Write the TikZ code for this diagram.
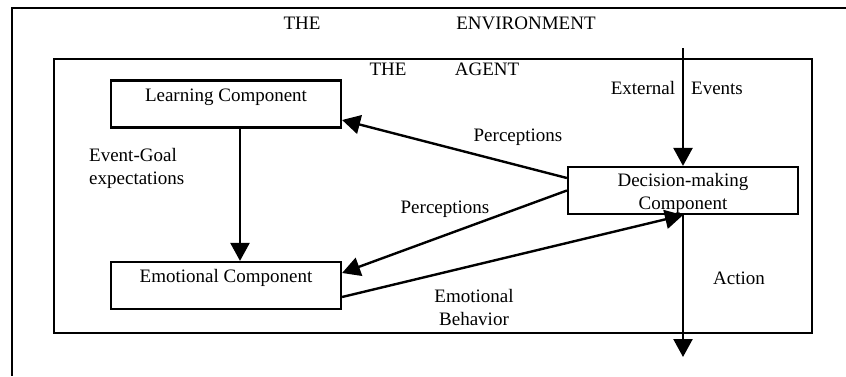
\documentclass[tikz,border=0pt]{standalone}
\usepackage{fontspec}
\setmainfont{Liberation Serif}
\usetikzlibrary{arrows.meta,calc}
\begin{document}
\begin{tikzpicture}[x=1pt,y=-1pt,
  every node/.style={font=\fontsize{19}{23}\selectfont},
  txt/.style={inner sep=0pt, align=center},
  comp/.style={draw, line width=2.2pt, minimum width=230pt, minimum height=47pt, inner sep=0pt},
  arr/.style={line width=2.4pt, -{Triangle[length=18pt,width=19pt]}},
  frame/.style={line width=2.2pt}]
\useasboundingbox (0,0) rectangle (846,376);
% environment frame
\draw[frame] (846,8) -- (12,8) -- (12,376);
\node[txt] (env1) at (302,23) {THE};
\node[txt] (env2) at (526,23) {ENVIRONMENT};
% agent frame
\draw[line width=2.8pt] (54,59) rectangle (812,333);
\node[txt] (ag1) at (388,69) {THE};
\node[txt] (ag2) at (487,69) {AGENT};
% components
\node[comp] (learn) at (226,104) {};
\node[txt] (learnt) at (226,97) {Learning Component};
\node[comp] (emo) at (226,285.5) {};
\node[txt] (emot) at (226,278) {Emotional Component};
\node[comp] (dec) at (683,190.5) {};
\node[txt] (dect1) at (683,182) {Decision-making};
\node[txt] (dect2) at (683,205) {Component};
% free ends
\coordinate (ext) at (683,48);
\coordinate (act) at (683,357);
% connectors
\draw[arr] (ext) -- (dec.north);
\draw[arr] (dec.south) -- (act);
\draw[arr] ([xshift=14pt]learn.south) -- ([xshift=14pt]emo.north);
\draw[arr] ([yshift=12.5pt]dec.west) -- ([yshift=-16pt]learn.east);
\draw[arr] (dec.west) -- ([yshift=12.5pt]emo.east);
\draw[arr] ([yshift=-11.5pt]emo.east) -- (dec.south);
% labels
\node[txt] (l1) at (643,88) {External};
\node[txt] (l2) at (717,88) {Events};
\node[inner sep=0pt, align=left, anchor=west] (l3) at (89,168) {Event-Goal\\expectations};
\node[txt] (l4) at (518,137) {Perceptions};
\node[txt] (l5) at (445,209) {Perceptions};
\node[txt] (l6) at (474,307.5) {Emotional\\Behavior};
\node[txt] (l7) at (739,278) {Action};
\end{tikzpicture}
\end{document}
